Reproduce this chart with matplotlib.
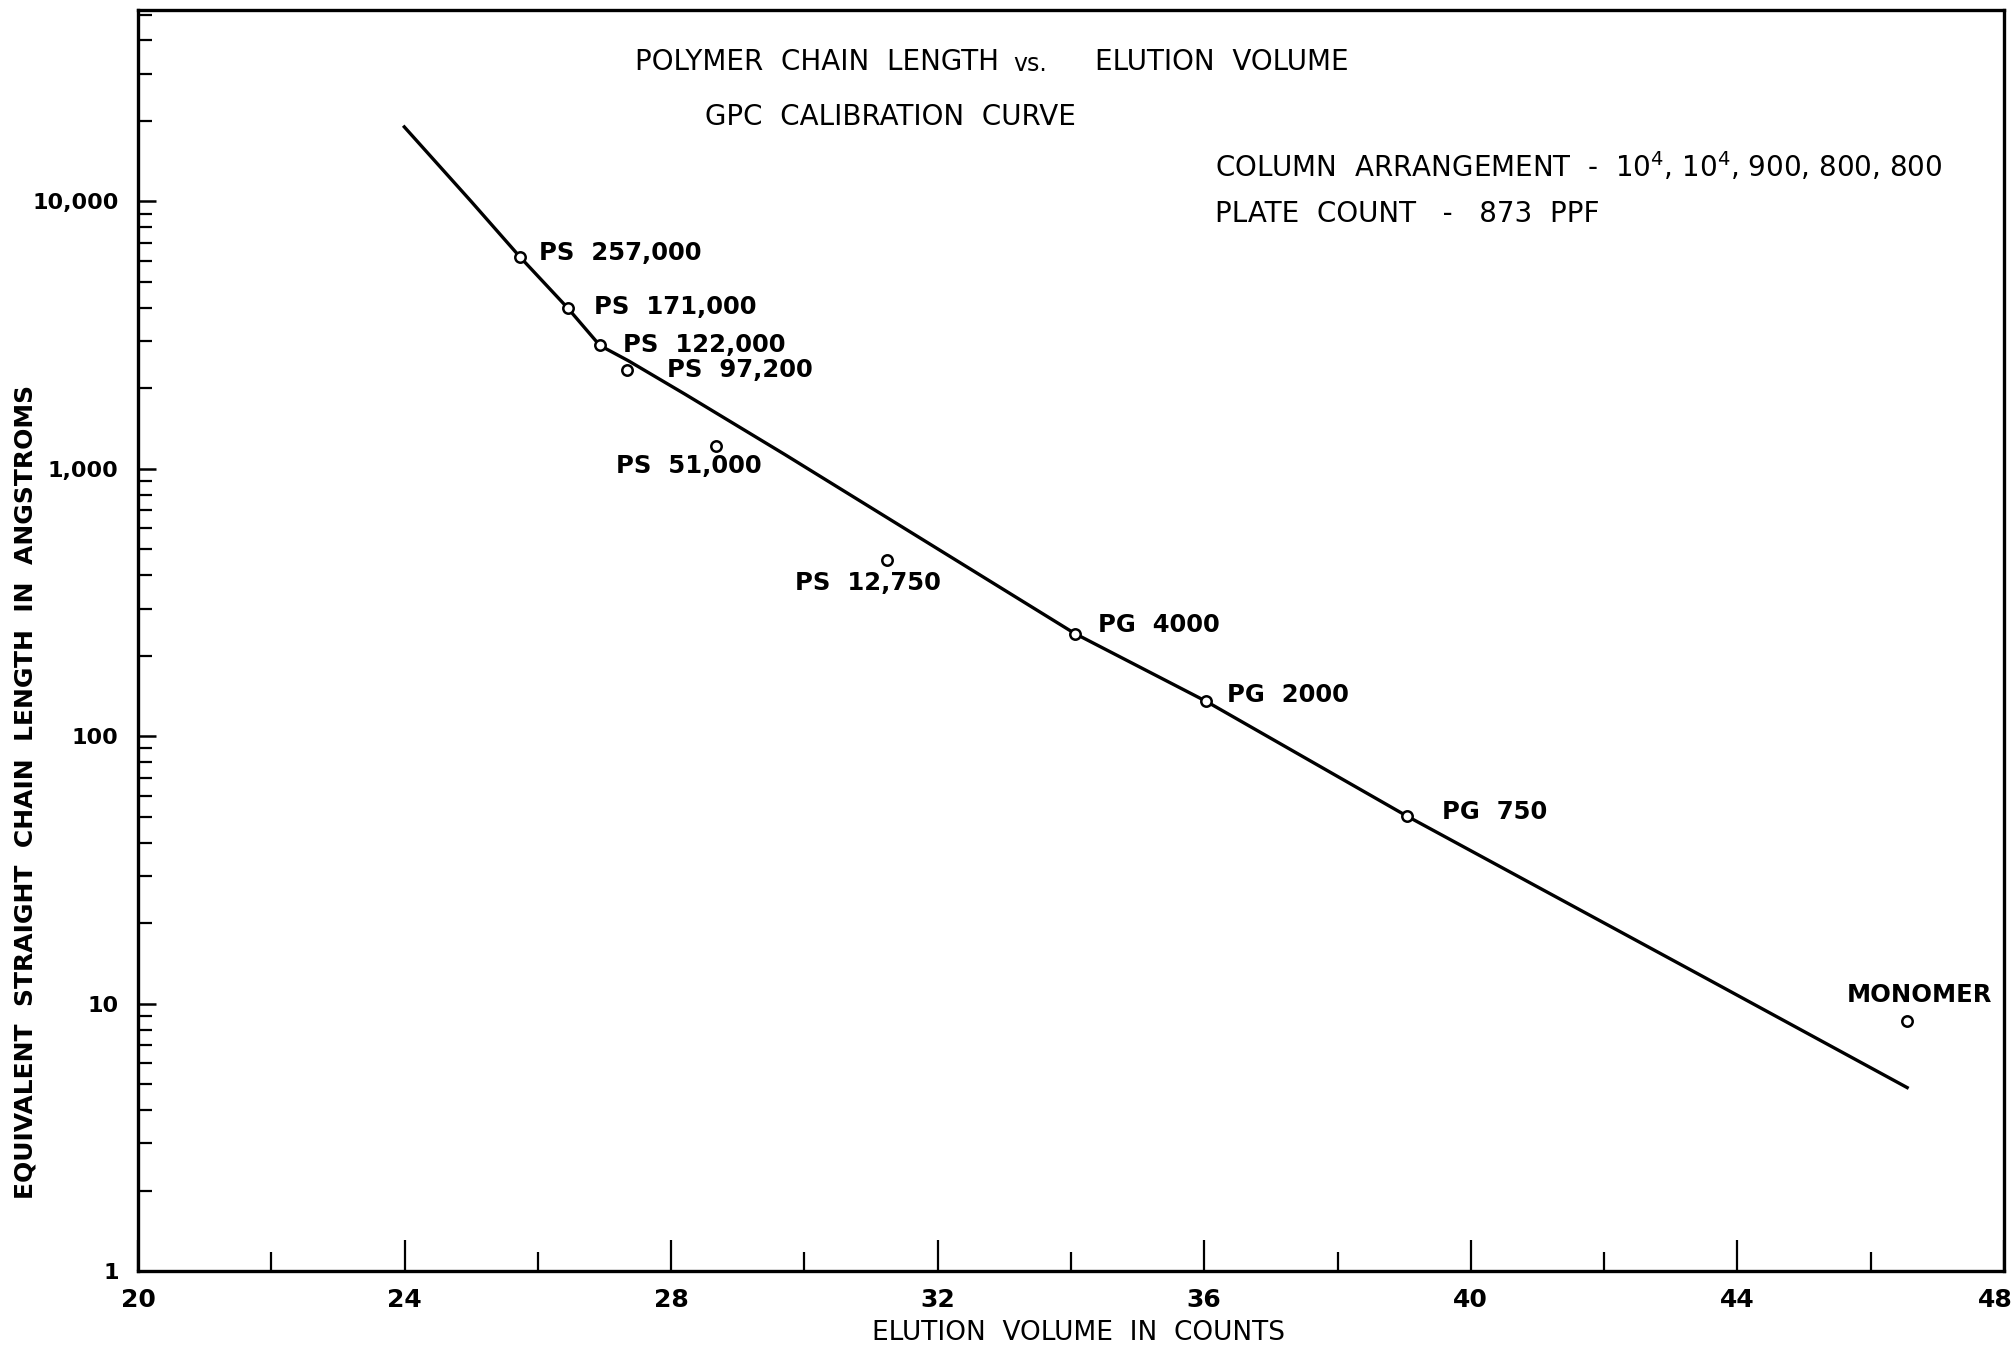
import numpy as np
import matplotlib.pyplot as plt
import matplotlib.transforms as mtransforms
from matplotlib.ticker import FixedLocator, FixedFormatter, LogLocator, NullFormatter

# calibration standards
samples = ['PS  257,000', 'PS  171,000', 'PS  122,000', 'PS  97,200', 'PS  51,000',
           'PS  12,750', 'PG  4000', 'PG  2000', 'PG  750', 'MONOMER']
elution = [25.73, 26.45, 26.93, 27.34, 28.67, 31.24, 34.06, 36.03, 39.04, 46.55]
chain_len = [6210, 3990, 2894, 2345, 1221, 456, 242, 135, 50.3, 8.6]

# drawn calibration curve
curve_x = [23.98, 25.0, 25.73, 26.45, 26.93, 27.36, 28.21, 29.71,
           34.06, 36.03, 39.04, 43.49, 46.57]
curve_y = [19200, 10000, 6210, 3990, 2894, 2535, 1901, 1130,
           242, 135, 50.3, 12.6, 4.82]

xticks = [20, 24, 28, 32, 36, 40, 44, 48]
yticks = [1, 10, 100, 1000, 10000]
ytick_labels = ['1', '10', '100', '1,000', '10,000']

# label offsets in points (dx, dy, ha)
offsets = [(14, 2.8, 'left'), (19, 1, 'left'), (16.5, 0, 'left'), (28.5, 0, 'left'),
           (-72, -15, 'left'), (-66, -16.5, 'left'), (16.5, 6.5, 'left'),
           (15, 4.6, 'left'), (25, 2.8, 'left'), (9, 18.5, 'center')]

fig = plt.figure(figsize=(20.14, 13.48), dpi=100)
ax = fig.add_axes([0.0685, 0.0571, 0.9265, 0.9355])

ax.plot(curve_x, curve_y, color='black', lw=2.4, solid_capstyle='butt', zorder=2)
ax.plot(elution, chain_len, 'o', ms=7.5, mfc='white', mec='black', mew=1.8, zorder=3)

for name, x, y, (dx, dy, ha) in zip(samples, elution, chain_len, offsets):
    ax.annotate(name, (x, y), xytext=(dx, dy), textcoords='offset points',
                ha=ha, va='center', fontsize=17.5, fontweight='bold')

ax.set_yscale('log')
ax.set_xlim(20, 48)
ax.set_ylim(1, 5.2e4)

ax.xaxis.set_major_locator(FixedLocator(xticks))
ax.xaxis.set_minor_locator(FixedLocator([22, 26, 30, 34, 38, 42, 46]))
ax.yaxis.set_major_locator(FixedLocator(yticks))
ax.yaxis.set_major_formatter(FixedFormatter(ytick_labels))
ax.yaxis.set_minor_locator(LogLocator(base=10, subs=np.arange(2, 10)))
ax.yaxis.set_minor_formatter(NullFormatter())

ax.tick_params(axis='x', which='major', direction='in', length=22, width=1.6, pad=12,
               labelsize=18)
ax.tick_params(axis='x', which='minor', direction='in', length=14, width=1.6)
ax.tick_params(axis='y', which='major', direction='in', length=13, width=1.8, pad=14,
               labelsize=16)
ax.tick_params(axis='y', which='minor', direction='in', length=10, width=1.6)
for lab in ax.get_xticklabels() + ax.get_yticklabels():
    lab.set_fontweight('bold')

# keep the last x label inside the figure
fig.canvas.draw()
last = ax.get_xticklabels()[-1]
last.set_ha('right')
last.set_transform(last.get_transform() +
                   mtransforms.ScaledTranslation(6 / 72, 0, fig.dpi_scale_trans))

for sp in ax.spines.values():
    sp.set_linewidth(2.4)

ax.set_xlabel('ELUTION  VOLUME  IN  COUNTS', fontsize=19)
ax.xaxis.set_label_coords(0.504, -0.039)
ax.set_ylabel('EQUIVALENT  STRAIGHT  CHAIN  LENGTH  IN  ANGSTROMS', fontsize=18,
              fontweight='bold')
ax.yaxis.set_label_coords(-0.054, 0.38)

# title line, with the smaller "vs."
ax.text(0.4614, 0.9588, 'POLYMER  CHAIN  LENGTH', transform=ax.transAxes,
        ha='right', va='center', fontsize=20)
ax.text(0.4783, 0.9575, 'vs.', transform=ax.transAxes, ha='center', va='center',
        fontsize=17)
ax.text(0.5129, 0.9588, 'ELUTION  VOLUME', transform=ax.transAxes,
        ha='left', va='center', fontsize=20)
ax.text(0.403, 0.915, 'GPC  CALIBRATION  CURVE', transform=ax.transAxes,
        ha='center', va='center', fontsize=20)
ax.text(0.577, 0.8755,
        'COLUMN  ARRANGEMENT  -  $\\mathregular{10^4}$, $\\mathregular{10^4}$, 900, 800, 800',
        transform=ax.transAxes, ha='left', va='center', fontsize=20)
ax.text(0.577, 0.838, 'PLATE  COUNT   -   873  PPF', transform=ax.transAxes,
        ha='left', va='center', fontsize=20)

fig.savefig('out.png', dpi=100)
